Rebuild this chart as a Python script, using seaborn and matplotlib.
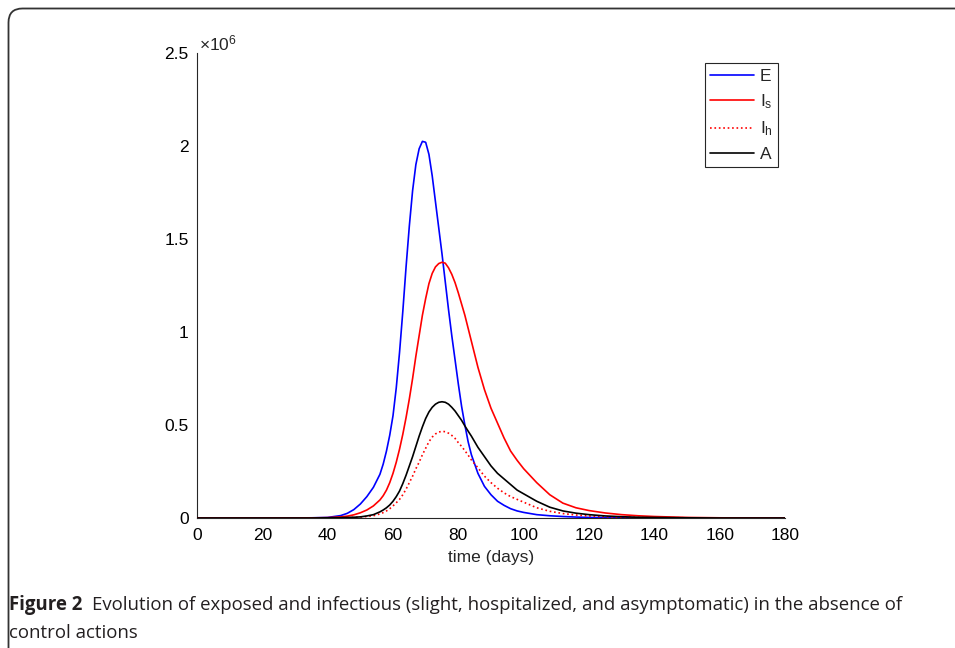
"""
Exposed and infectious compartments over time, no control actions (Figure 2).
"""

import matplotlib
matplotlib.use("Agg")
import matplotlib.pyplot as plt
from matplotlib.patches import FancyBboxPatch
from matplotlib.transforms import IdentityTransform
from matplotlib.ticker import FuncFormatter
import seaborn as sns

# ============================================================================
# DATA (values in millions of people)
# ============================================================================

days = [0, 10, 20, 30, 35, 40, 44, 46, 48, 50, 52, 54, 56, 57, 58, 59, 60,
        61, 62, 63, 64, 65, 66, 67, 68, 69, 70, 71, 72, 73, 74, 75, 76, 77,
        78, 79, 80, 81, 82, 83, 84,
        86, 88, 90, 92, 94, 96, 98, 100,
        104, 108, 112, 116, 120, 125, 130, 135, 140, 150, 160, 170, 180]

exposed = [0, 0, 0, 0.0005, 0.001, 0.003, 0.013, 0.025, 0.045, 0.075, 0.115,
           0.165, 0.235, 0.29, 0.36, 0.445, 0.55,
           0.70, 0.89, 1.11, 1.35, 1.57, 1.76, 1.90, 1.985, 2.025, 2.02, 1.955,
           1.84, 1.70, 1.56, 1.42, 1.27, 1.12, 0.98, 0.85, 0.72, 0.60, 0.50,
           0.41, 0.34,
           0.24, 0.17, 0.125, 0.09, 0.068, 0.05, 0.038, 0.03,
           0.018, 0.012, 0.008, 0.005, 0.003, 0.002, 0.001, 0.0005, 0, 0, 0, 0, 0]

infectious_slight = [0, 0, 0, 0, 0.0005, 0.002, 0.006, 0.01, 0.017, 0.028,
                     0.043, 0.065, 0.097, 0.12, 0.15, 0.19, 0.24,
                     0.30, 0.37, 0.45, 0.54, 0.64, 0.75, 0.87, 0.98, 1.09,
                     1.18, 1.26, 1.315, 1.35, 1.368, 1.375, 1.37, 1.345, 1.31,
                     1.265, 1.21, 1.15, 1.09, 1.02, 0.95,
                     0.81, 0.69, 0.59, 0.51, 0.43, 0.36, 0.31, 0.265,
                     0.19, 0.125, 0.08, 0.055, 0.04, 0.027, 0.018, 0.012,
                     0.008, 0.003, 0.001, 0, 0]

infectious_hosp = [0, 0, 0, 0, 0, 0.0005, 0.001, 0.002, 0.003, 0.005, 0.008,
                   0.012, 0.022, 0.029, 0.038, 0.05, 0.065,
                   0.082, 0.10, 0.125, 0.155, 0.19, 0.225, 0.265, 0.30, 0.34,
                   0.375, 0.41, 0.435, 0.452, 0.462, 0.466, 0.464, 0.456,
                   0.444, 0.428, 0.405, 0.385, 0.362, 0.338, 0.312,
                   0.27, 0.225, 0.19, 0.16, 0.135, 0.115, 0.10, 0.085,
                   0.055, 0.036, 0.024, 0.016, 0.011, 0.007, 0.004, 0.003,
                   0.002, 0.001, 0, 0, 0]

asymptomatic = [0, 0, 0, 0, 0, 0.001, 0.002, 0.003, 0.004, 0.006, 0.011,
                0.018, 0.033, 0.043, 0.055, 0.07, 0.09,
                0.115, 0.145, 0.185, 0.23, 0.28, 0.33, 0.385, 0.44, 0.49,
                0.535, 0.57, 0.595, 0.612, 0.622, 0.625, 0.622, 0.612, 0.595,
                0.575, 0.55, 0.525, 0.495, 0.467, 0.44,
                0.38, 0.33, 0.28, 0.24, 0.21, 0.18, 0.15, 0.13,
                0.09, 0.058, 0.038, 0.026, 0.018, 0.011, 0.007, 0.004,
                0.003, 0.001, 0, 0, 0]

x_ticks = [0, 20, 40, 60, 80, 100, 120, 140, 160, 180]
y_ticks = [0, 0.5, 1, 1.5, 2, 2.5]

caption_head = 'Figure 2'
caption_line1 = ('Evolution of exposed and infectious (slight, hospitalized, '
                 'and asymptomatic) in the absence of')
caption_line2 = 'control actions'

# ============================================================================
# PLOT
# ============================================================================

sns.set_style("white")
plt.rcParams['font.family'] = ['Liberation Sans', 'DejaVu Sans']
plt.rcParams['mathtext.fontset'] = 'custom'
plt.rcParams['mathtext.rm'] = 'Liberation Sans'
plt.rcParams['mathtext.it'] = 'Liberation Sans'

FS = 12.5

fig = plt.figure(figsize=(9.55, 6.48), dpi=100)
ax = fig.add_axes([197 / 955, 1 - 518 / 648, 588 / 955, 465 / 648])

series = [
    (exposed, 'E', 'blue', '-'),
    (infectious_slight, r'$\mathregular{I_s}$', 'red', '-'),
    (infectious_hosp, r'$\mathregular{I_h}$', 'red', ':'),
    (asymptomatic, 'A', 'black', '-'),
]
for values, name, col, ls in series:
    sns.lineplot(x=days, y=values, ax=ax, color=col, linestyle=ls,
                 linewidth=1.2, label=name, zorder=3)

ax.set_xlim(0, 180)
ax.set_ylim(0, 2.5)
ax.set_xticks(x_ticks)
ax.set_yticks(y_ticks)
ax.yaxis.set_major_formatter(FuncFormatter(lambda v, p: f'{v:g}'))
ax.tick_params(direction='in', length=5, width=0.8, labelsize=FS,
               colors='#262626', labelcolor='black')
ax.tick_params(axis='x', pad=7)
ax.tick_params(axis='y', pad=6)
for side in ['top', 'right']:
    ax.spines[side].set_visible(False)
for side in ['left', 'bottom']:
    ax.spines[side].set_color('#262626')
    ax.spines[side].set_linewidth(0.8)

ax.set_xlabel('time (days)', fontsize=FS, labelpad=5)
ax.text(0.003, 1.0, r'$\times\mathregular{10^{6}}$', transform=ax.transAxes,
        ha='left', va='bottom', fontsize=FS)

leg = ax.legend(loc='upper right', bbox_to_anchor=(0.988, 0.978),
                fontsize=FS, frameon=True, fancybox=False, framealpha=1,
                edgecolor='#262626', handlelength=2.5, handletextpad=0.35,
                labelspacing=0.5, borderpad=0.3, borderaxespad=0)
leg.get_frame().set_linewidth(0.8)

# rounded panel border like the journal figure frame
frame = FancyBboxPatch((8.5, -100), 1200, 648 - 8.5 + 100,
                       boxstyle='round,pad=0,rounding_size=14',
                       transform=IdentityTransform(), fill=False,
                       edgecolor='#333333', linewidth=1.3)
fig.patches.append(frame)

# caption
cap_font = ['Open Sans', 'DejaVu Sans']
cap_fs = 13.4
head = fig.text(9 / 955, 1 - 605 / 648, caption_head, fontsize=cap_fs,
                weight='bold', family=cap_font, va='center', color='#231f20')
fig.canvas.draw()
bb = head.get_window_extent(fig.canvas.get_renderer())
fig.text((bb.x1 + 10) / 955, 1 - 605 / 648, caption_line1, fontsize=cap_fs,
         family=cap_font, va='center', color='#231f20')
fig.text(9 / 955, 1 - 633 / 648, caption_line2, fontsize=cap_fs,
         family=cap_font, va='center', color='#231f20')

fig.savefig('out.png', dpi=100)
print("[OK] Saved: out.png")
